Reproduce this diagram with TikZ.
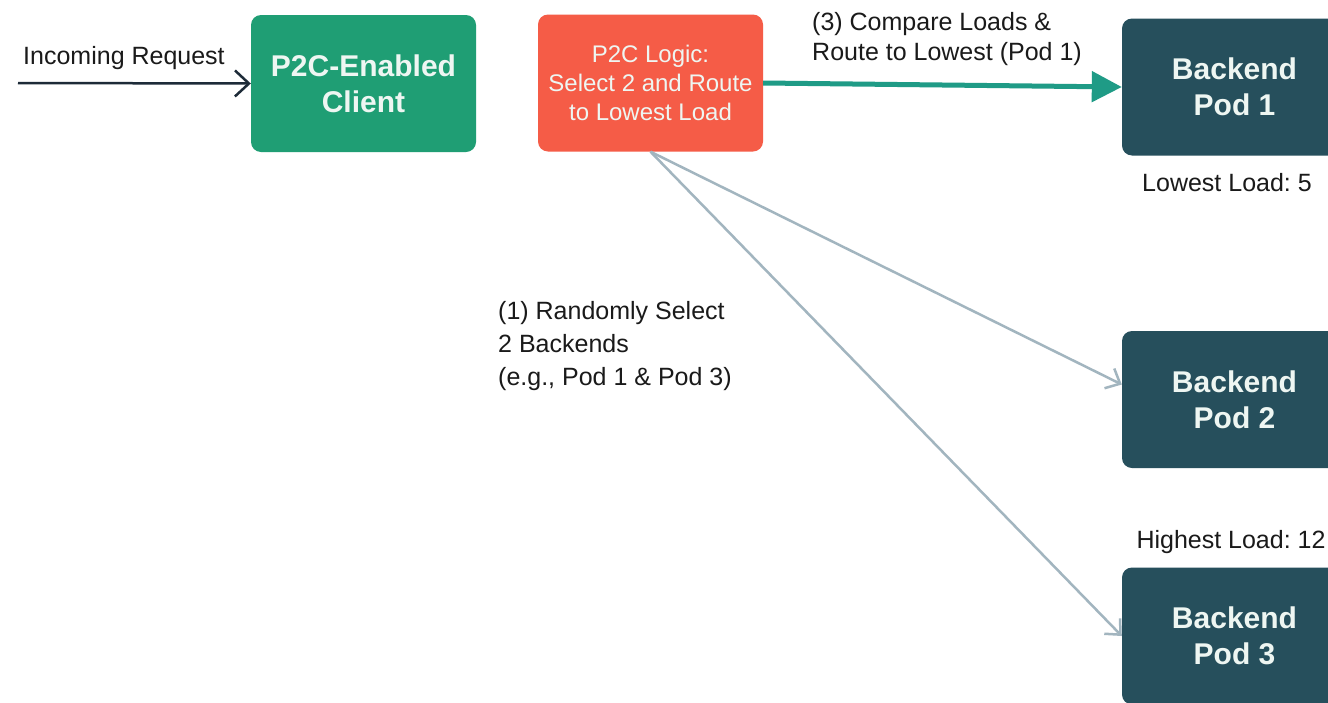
\documentclass[tikz,border=0pt]{standalone}
\usepackage{fontspec}
\setmainfont{Liberation Sans}
\usetikzlibrary{arrows.meta}
\frenchspacing

\definecolor{clientgreen}{HTML}{1F9E74}
\definecolor{logicred}{HTML}{F55C47}
\definecolor{podteal}{HTML}{264F5C}
\definecolor{boxtext}{HTML}{EEF6F2}
\definecolor{inkdark}{HTML}{1D2B38}
\definecolor{routeteal}{HTML}{1F9B86}
\definecolor{pickgray}{HTML}{A2B5BF}
\definecolor{labelink}{HTML}{1A1A1A}

\tikzset{
  box/.style={rounded corners=10pt, minimum width=225pt, minimum height=137pt,
    align=center, text=boxtext, inner sep=0pt},
  bigtext/.style={font=\fontsize{30}{36}\selectfont\bfseries},
  logictext/.style={font=\fontsize{24}{29}\selectfont},
  note/.style={text=labelink, font=\fontsize{25}{30}\selectfont, inner sep=0pt},
  inarrow/.style={draw=inkdark, line width=2.5pt,
    -{Straight Barb[length=14pt,width=26pt,line width=2.5pt]}},
  routearrow/.style={draw=routeteal, line width=5pt,
    -{Triangle[length=30pt,width=30pt]}},
  pickarrow/.style={draw=pickgray, line width=2.5pt,
    -{Straight Barb[length=12pt,width=22pt,line width=2.5pt]}},
}

\begin{document}
\begin{tikzpicture}[x=1pt,y=-1pt]
  \useasboundingbox (0,0) rectangle (1328,702);
  \fill[white] (0,0) rectangle (1328,702);
  \clip (0,0) rectangle (1328,702);

  % processing boxes
  \node[box, fill=clientgreen, bigtext] (client) at (363.5,83.5) {P2C-Enabled\\Client};
  \node[box, fill=logicred, logictext] (logic) at (650.5,83) {P2C Logic:\\Select 2 and Route\\to Lowest Load};

  % backend pods
  \node[box, fill=podteal, bigtext] (pod1) at (1234.5,87) {Backend\\Pod 1};
  \node[box, fill=podteal, bigtext] (pod2) at (1234.5,399.5) {Backend\\Pod 2};
  \node[box, fill=podteal, bigtext] (pod3) at (1234.5,636) {Backend\\Pod 3};

  % labels
  \node[note] (inlabel) at (124,58) {Incoming Request};
  \node[note, anchor=west, align=left] (cmplabel) at (812,39) {(3) Compare Loads \&\\Route to Lowest (Pod 1)};
  \node[note] (lowlabel) at (1227,183) {Lowest Load: 5};
  \node[note, anchor=west, align=left, font=\fontsize{25}{33}\selectfont] (sellabel) at (498,346) {(1) Randomly Select\\2 Backends\\(e.g., Pod 1 \& Pod 3)};
  \node[note] (highlabel) at (1231,542) {Highest Load: 12};

  % connectors
  \coordinate (src) at (18,83);
  \draw[inarrow] (src) -- (client.west);
  \draw[routearrow] (logic.east) -- (pod1.west);
  \draw[pickarrow] (logic.south) -- ([yshift=15pt]pod2.west);
  \draw[pickarrow] (logic.south) -- (pod3.west);
\end{tikzpicture}
\end{document}
